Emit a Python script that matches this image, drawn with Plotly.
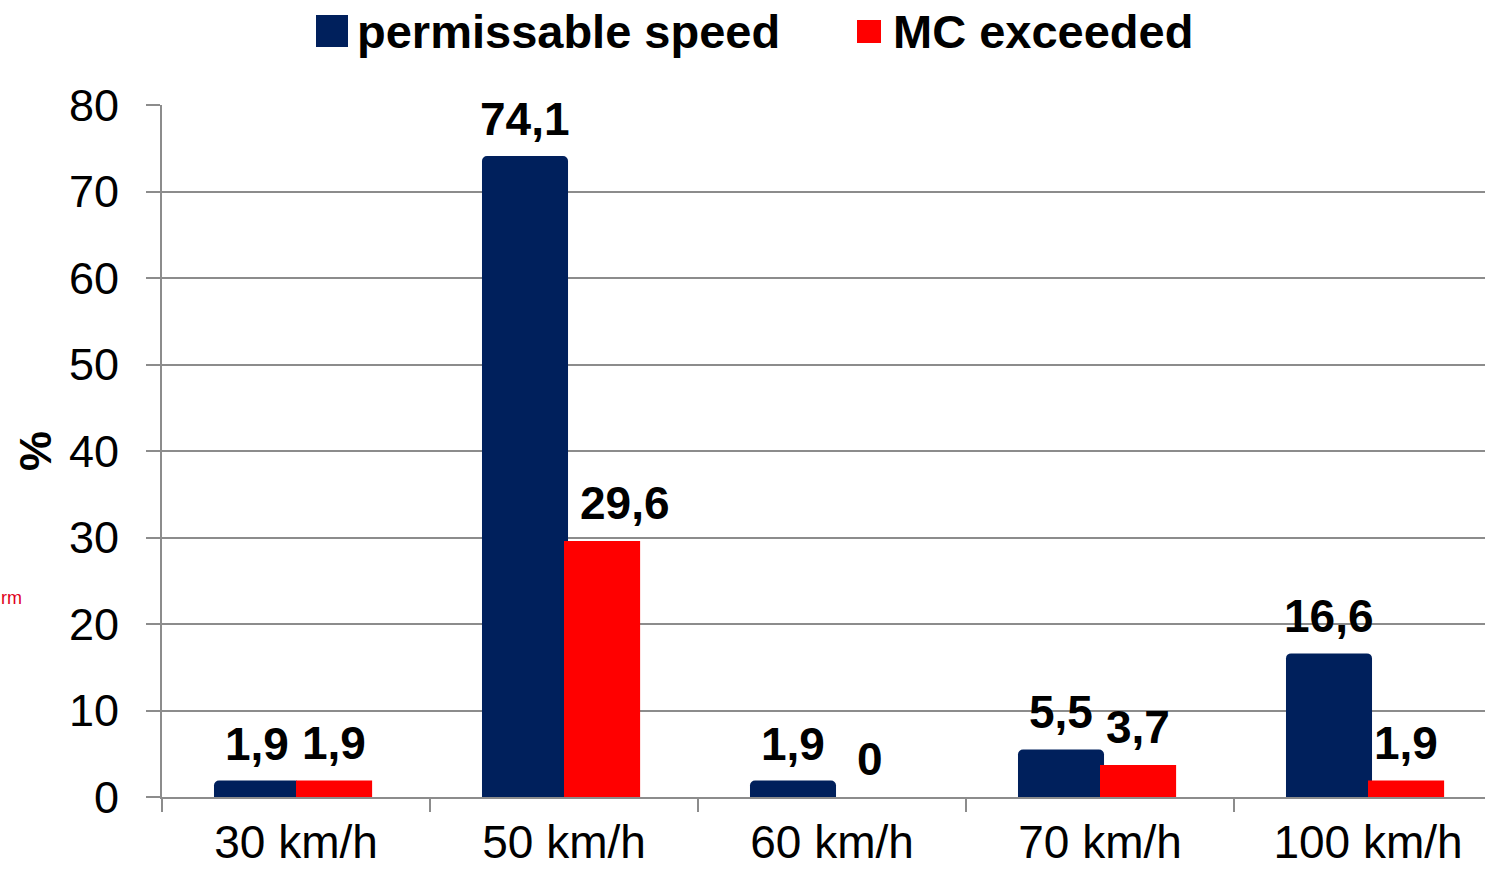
import plotly.graph_objects as go

# Speed-limit categories and the two measured shares (%)
categories = ["30 km/h", "50 km/h", "60 km/h", "70 km/h", "100 km/h"]
permissable_speed = [1.9, 74.1, 1.9, 5.5, 16.6]
mc_exceeded = [1.9, 29.6, 0.0, 3.7, 1.9]
series_names = ["permissable speed", "MC exceeded"]
y_ticks = [0, 10, 20, 30, 40, 50, 60, 70, 80]

NAVY = "#00205C"
RED = "#FF0000"
GRID = "#8C8C8C"
FONT = "Liberation Sans, Arial, sans-serif"

W, H = 1485, 872
L, R, T, B = 162, 0, 105, 75
plot_w = W - L - R
plot_h = H - T - B
group_px = 268  # width of one category slot in pixels

BLUE_OFFSET, BLUE_WIDTH = -0.306, 0.321
RED_OFFSET, RED_WIDTH = 0.0, 0.284
LABEL_SIZE = 46


def fmt(v):
    return f"{v:g}".replace(".", ",")


def px_x(px):
    return (px - L) / plot_w


def px_y(py):
    return (H - B - py) / plot_h


fig = go.Figure()

fig.add_trace(go.Bar(
    x=categories, y=permissable_speed, name=series_names[0],
    marker=dict(color=NAVY, cornerradius=5, line=dict(width=0)),
    offset=BLUE_OFFSET, width=BLUE_WIDTH, showlegend=False,
))
fig.add_trace(go.Bar(
    x=categories, y=mc_exceeded, name=series_names[1],
    marker=dict(color=RED, line=dict(width=0)),
    offset=RED_OFFSET, width=RED_WIDTH, showlegend=False,
))

# Value labels above each bar
label_font = dict(family=FONT, size=LABEL_SIZE, color="black", weight="bold")
for i, v in enumerate(permissable_speed):
    fig.add_annotation(x=i + BLUE_OFFSET + BLUE_WIDTH / 2, y=v, xref="x", yref="y",
                       text=fmt(v), showarrow=False, yanchor="bottom",
                       yshift=9, font=label_font)
for i, v in enumerate(mc_exceeded):
    fig.add_annotation(x=i + RED_OFFSET + RED_WIDTH / 2, y=v, xref="x", yref="y",
                       text=fmt(v), showarrow=False, yanchor="bottom",
                       yshift=10, xshift=23 if v > 20 else 0, font=label_font)

# Legend drawn as swatches + labels above the plot
legend_items = [
    (series_names[0], NAVY, (316, 15, 348, 47), 355),
    (series_names[1], RED, (857, 20, 881, 43), 891),
]
for name, color, (x0, y0, x1, y1), tx in legend_items:
    fig.add_shape(type="rect", xref="paper", yref="paper",
                  x0=px_x(x0), x1=px_x(x1), y0=px_y(y1), y1=px_y(y0),
                  fillcolor=color, line=dict(width=0), layer="above")
    fig.add_annotation(xref="paper", yref="paper", x=px_x(tx), y=px_y(31),
                       xanchor="left", yanchor="middle", showarrow=False,
                       text=name,
                       font=dict(family=FONT, size=47, color="black", weight="bold"))

# Rotated axis title
fig.add_annotation(xref="paper", yref="paper", x=px_x(35), y=px_y(451),
                   xanchor="center", yanchor="middle", showarrow=False,
                   text="%", textangle=-90,
                   font=dict(family=FONT, size=45, color="black", weight="bold"))
# Short red note at the left edge
fig.add_annotation(xref="paper", yref="paper", x=px_x(0), y=px_y(598),
                   xanchor="left", yanchor="middle", showarrow=False,
                   text="rm", borderpad=0,
                   font=dict(family=FONT, size=18, color="#E0001B"))

fig.update_layout(
    width=W, height=H,
    margin=dict(l=L, r=R, t=T, b=B, pad=0, autoexpand=False),
    paper_bgcolor="white", plot_bgcolor="white",
    barmode="overlay",
    font=dict(family=FONT, color="black"),
)
fig.update_xaxes(
    type="category", categoryarray=categories,
    range=[-0.5, -0.5 + plot_w / group_px],
    showline=True, linecolor=GRID, linewidth=2,
    ticks="outside", tickson="boundaries", ticklen=13, tickwidth=2, tickcolor=GRID,
    showgrid=False, tickfont=dict(family=FONT, size=46, color="black"),
    ticklabelstandoff=4, automargin=False,
)
fig.update_yaxes(
    range=[0, 80], tickvals=y_ticks,
    showline=True, linecolor=GRID, linewidth=2,
    showgrid=True, gridcolor=GRID, gridwidth=2,
    ticks="outside", ticklen=14, tickwidth=2, tickcolor=GRID,
    tickfont=dict(family=FONT, size=45, color="black"),
    ticklabelstandoff=18, zeroline=False, automargin=False,
)

fig.write_html("out.html")
